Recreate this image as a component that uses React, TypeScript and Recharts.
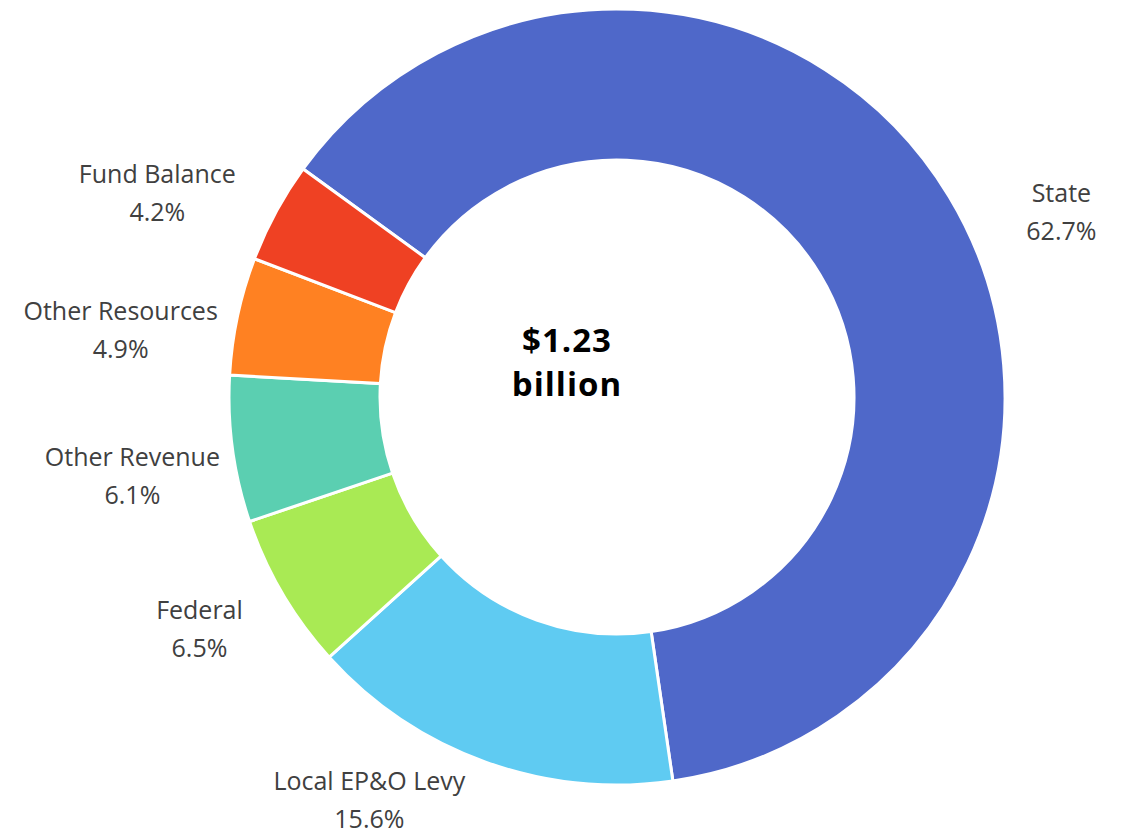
import React from "react";
import { PieChart, Pie, Cell } from "recharts";

const sources = ["State", "Local EP&O Levy", "Federal", "Other Revenue", "Other Resources", "Fund Balance"];
const shares = [62.7, 15.6, 6.5, 6.1, 4.9, 4.2];
const colors = ["#4F68C9", "#5FCBF2", "#A9EA54", "#5BCFB1", "#FF8122", "#EF4123"];
// nudges for the outside labels, roughly where the original puts them
const labelNudges = [
  { dx: 31, dy: 64 },
  { dx: -84, dy: -52 },
  { dx: -1, dy: -14 },
  { dx: -6, dy: 13 },
  { dx: -24, dy: 33 },
  { dx: -35, dy: 25 },
];

const data = sources.map((name, i) => ({ name, value: shares[i] }));

const RADIAN = Math.PI / 180;
const FONT = "'Open Sans', 'Noto Sans', sans-serif";

const renderLabel = (props: any) => {
  const { cx, cy, midAngle, outerRadius, index } = props;
  const r = outerRadius + 95;
  const x = cx + r * Math.cos(-midAngle * RADIAN) + labelNudges[index].dx;
  const y = cy + r * Math.sin(-midAngle * RADIAN) + labelNudges[index].dy;
  return (
    <text
      x={x}
      y={y}
      textAnchor="middle"
      fill="#404040"
      fontSize={25}
      fontFamily={FONT}
    >
      <tspan x={x} dy={-19} dominantBaseline="central">
        {sources[index]}
      </tspan>
      <tspan x={x} dy={38} dominantBaseline="central">
        {shares[index].toFixed(1)}%
      </tspan>
    </text>
  );
};

export default function App() {
  return (
    <div style={{ position: "absolute", left: 0, top: 0, width: 1122, height: 835, background: "#fff" }}>
      <PieChart width={1122} height={835} margin={{ top: 0, right: 0, bottom: 0, left: 0 }}>
        <Pie
          data={data}
          dataKey="value"
          nameKey="name"
          cx={617}
          cy={397}
          innerRadius={237}
          outerRadius={388}
          startAngle={144}
          endAngle={-216}
          stroke="#fff"
          strokeWidth={3}
          label={renderLabel}
          labelLine={false}
          isAnimationActive={false}
        >
          {data.map((d, i) => (
            <Cell key={d.name} fill={colors[i]} />
          ))}
        </Pie>
      </PieChart>
      <div
        style={{
          position: "absolute",
          left: 467,
          top: 318,
          width: 200,
          textAlign: "center",
          fontFamily: FONT,
          fontWeight: 700,
          fontSize: 33,
          letterSpacing: 1,
          lineHeight: "44px",
          color: "#000",
        }}
      >
        $1.23
        <br />
        billion
      </div>
    </div>
  );
}
